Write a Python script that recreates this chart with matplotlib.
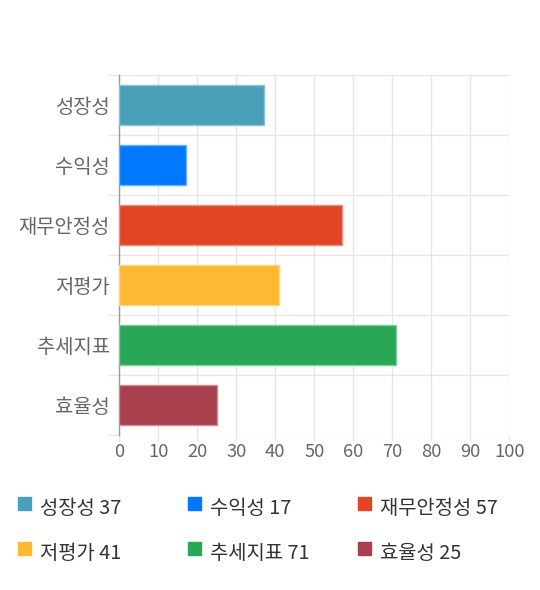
import matplotlib
matplotlib.use("Agg")
import matplotlib.pyplot as plt
from matplotlib.patches import Rectangle

plt.rcParams['font.family'] = ['Noto Sans CJK KR', 'DejaVu Sans']

categories = ['성장성', '수익성', '재무안정성', '저평가', '추세지표', '효율성']
scores = [37, 17, 57, 41, 71, 25]
colors = ['#4aa0b8', '#0078ff', '#e24526', '#ffb832', '#29a656', '#a8404d']
edge_colors = ['#8cc3d3', '#66aeff', '#ee8f7c', '#ffd48a', '#7fca9a', '#cb8c94']
x_ticks = list(range(0, 101, 10))

W, H = 540, 590
fig = plt.figure(figsize=(W / 100, H / 100), dpi=100)
ax = fig.add_axes([119.3 / W, (H - 435) / H, 390 / W, 360 / H])

ypos = list(range(len(categories)))
ax.barh(ypos, scores, height=0.68, color=colors, edgecolor=edge_colors,
        linewidth=1, zorder=3)

ax.set_xlim(0, 100)
ax.set_ylim(len(categories) - 0.5, -0.5)
ax.set_xticks(x_ticks)
ax.set_yticks(ypos)
ax.set_yticklabels(categories)
ax.set_yticks([i - 0.5 for i in range(len(categories) + 1)], minor=True)

grid_c = '#e6e6e6'
ax.grid(axis='x', which='major', color=grid_c, linewidth=1, zorder=0)
ax.grid(axis='y', which='minor', color=grid_c, linewidth=1, zorder=0)

ax.tick_params(axis='y', which='major', length=0, pad=7, labelsize=14.3,
               labelcolor='#666666')
ax.tick_params(axis='y', which='minor', length=8, color=grid_c, width=1)
ax.tick_params(axis='x', which='major', length=4, color=grid_c, width=1,
               pad=2, labelsize=13.2, labelcolor='#666666')

for s in ['top', 'right', 'bottom']:
    ax.spines[s].set_visible(False)
ax.spines['left'].set_color('#9a9a9a')
ax.spines['left'].set_linewidth(1)

# legend, 3 columns x 2 rows
col_x = [18, 188, 358]
row_y = [503.5, 548]
for i, (name, val, c) in enumerate(zip(categories, scores, colors)):
    cx = col_x[i % 3]
    cy = row_y[i // 3]
    fig.add_artist(Rectangle((cx / W, (H - cy - 6.5) / H), 13 / W, 13 / H,
                             transform=fig.transFigure, color=c))
    fig.text((cx + 22) / W, (H - cy - 5.5) / H, f'{name} {val}', fontsize=14.3,
             color='#333333', va='center', ha='left')

fig.savefig('out.png', dpi=100)
